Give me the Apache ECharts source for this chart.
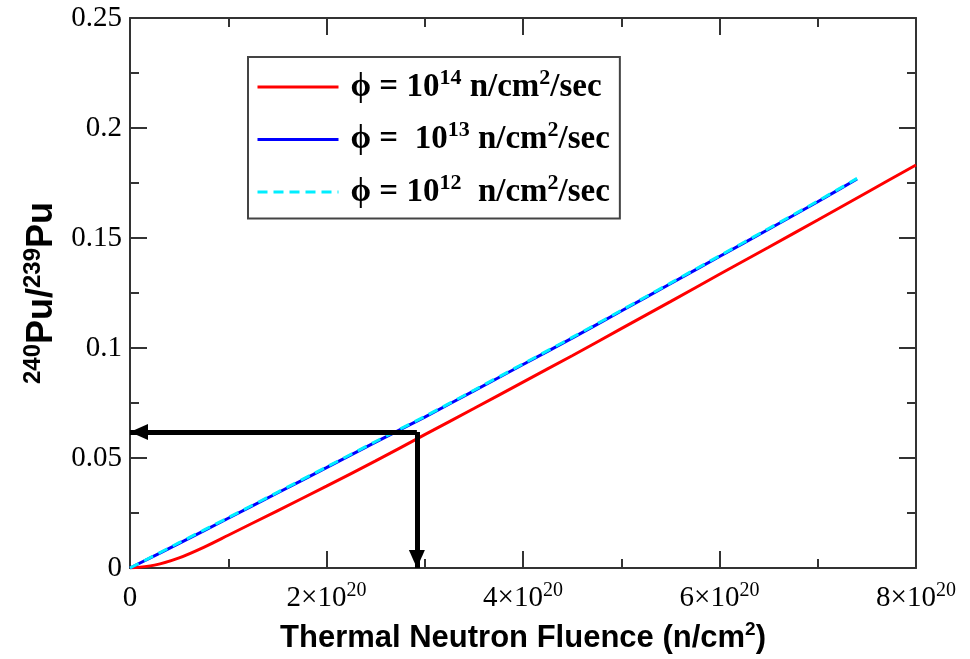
<!DOCTYPE html>
<html>
<head>
<meta charset="utf-8">
<script src="https://cdn.jsdelivr.net/npm/echarts@6/dist/echarts.min.js"></script>
<style>
  html, body { margin: 0; padding: 0; background: #fff; }
  #chart { width: 970px; height: 659px; }
</style>
</head>
<body>
<div id="chart"></div>
<script>
// Fluence in units of 1e20 n/cm^2, ratio 240Pu/239Pu
const fluence14 = [0, 0.25, 0.5, 0.75, 1, 1.5, 2, 2.5, 3, 3.5, 4, 4.5, 5, 5.5, 6, 6.5, 7, 7.5, 8];
const ratio14   = [0, 0.0013, 0.0046, 0.0094, 0.0149, 0.0260, 0.0372, 0.0487, 0.0606, 0.0725, 0.0845, 0.0965, 0.1088, 0.1211, 0.1335, 0.1458, 0.1582, 0.1707, 0.1832];

const fluence13 = [0, 0.5, 1, 1.5, 2, 2.5, 3, 3.5, 4, 4.5, 5, 5.5, 6, 6.5, 7, 7.4];
const ratio13   = [0, 0.0112, 0.0226, 0.0341, 0.0456, 0.0572, 0.0686, 0.0805, 0.0925, 0.1045, 0.1168, 0.1292, 0.1416, 0.1540, 0.1665, 0.1768];

const fluence12 = [0, 0.5, 1, 1.5, 2, 2.5, 3, 3.5, 4, 4.5, 5, 5.5, 6, 6.5, 7, 7.4];
const ratio12   = [0, 0.0115, 0.0229, 0.0344, 0.0459, 0.0575, 0.0689, 0.0808, 0.0928, 0.1048, 0.1171, 0.1295, 0.1419, 0.1543, 0.1668, 0.1771];

const seriesNames = ['phi14', 'phi13', 'phi12'];

// Reading guide: fluence 2.92e20 gives ratio 0.0618
const guideFluence = 2.92;
const guideRatio = 0.0618;

const xTickExp = '20';

function pairs(xs, ys) { return xs.map((x, i) => [x, ys[i]]); }

const serif = 'Liberation Serif';
const sans = 'Liberation Sans';

const chart = echarts.init(document.getElementById('chart'), null, { renderer: 'canvas' });

function frameAxis(extra) {
  return Object.assign({
    axisLine: { show: true, onZero: false, lineStyle: { color: '#333', width: 2 } },
    axisTick: { show: true, inside: true, length: 17, lineStyle: { color: '#333', width: 2 } },
    minorTick: { show: true, splitNumber: 2, length: 9, lineStyle: { color: '#333', width: 2 } },
    splitLine: { show: false }
  }, extra);
}

const legendRich = {
  t: { fontFamily: serif, fontWeight: 'bold', fontSize: 33, color: '#000', lineHeight: 40 },
  s: { fontFamily: serif, fontWeight: 'bold', fontSize: 22, color: '#000', lineHeight: 22, verticalAlign: 'top' }
};

chart.setOption({
  animation: false,
  backgroundColor: '#fff',
  grid: { left: 130, right: 54, top: 18, bottom: 91, containLabel: false, outerBoundsMode: 'none' },
  legend: {
    orient: 'vertical',
    left: 248,
    top: 57,
    padding: [10, 10, 10, 8],
    itemWidth: 81,
    itemHeight: 14,
    itemGap: 16,
    borderColor: '#444',
    borderWidth: 2,
    backgroundColor: '#fff',
    itemStyle: { opacity: 0 },
    lineStyle: { width: 3 },
    data: seriesNames,
    formatter: function (name) {
      if (name === 'phi14') return '{t|ϕ = 10}{s|14}{t| n/cm}{s|2}{t|/sec}';
      if (name === 'phi13') return '{t|ϕ =  10}{s|13}{t| n/cm}{s|2}{t|/sec}';
      return '{t|ϕ = 10}{s|12}{t|  n/cm}{s|2}{t|/sec}';
    },
    textStyle: { rich: legendRich, padding: [0, 0, 0, 7] }
  },
  xAxis: [
    frameAxis({
      type: 'value', min: 0, max: 8, interval: 2, position: 'bottom',
      name: '{t|Thermal Neutron Fluence (n/cm}{s|2}{t|)}',
      nameLocation: 'middle', nameGap: 52,
      nameTextStyle: {
        rich: {
          t: { fontFamily: sans, fontWeight: 'bold', fontSize: 31, color: '#000', lineHeight: 36 },
          s: { fontFamily: sans, fontWeight: 'bold', fontSize: 19, color: '#000', lineHeight: 18, verticalAlign: 'top' }
        }
      },
      axisLabel: {
        margin: 13,
        formatter: function (v) { return v === 0 ? '{m|0}' : '{m|' + v + '×10}{e|' + xTickExp + '}'; },
        rich: {
          m: { fontFamily: serif, fontSize: 29, color: '#000', lineHeight: 34 },
          e: { fontFamily: serif, fontSize: 20, color: '#000', lineHeight: 18, verticalAlign: 'top' }
        }
      }
    }),
    frameAxis({
      type: 'value', min: 0, max: 8, interval: 2, position: 'top',
      axisLabel: { show: false }
    })
  ],
  yAxis: [
    frameAxis({
      type: 'value', min: 0, max: 0.25, interval: 0.05, position: 'left',
      name: '{s|240}{t|Pu/}{s|239}{t|Pu}',
      nameLocation: 'middle', nameRotate: 90, nameGap: 55,
      nameTextStyle: {
        rich: {
          t: { fontFamily: sans, fontWeight: 'bold', fontSize: 36, color: '#000', lineHeight: 42 },
          s: { fontFamily: sans, fontWeight: 'bold', fontSize: 24, color: '#000', lineHeight: 24, verticalAlign: 'top' }
        }
      },
      axisLabel: { margin: 8, fontFamily: serif, fontSize: 29, color: '#000' }
    }),
    frameAxis({
      type: 'value', min: 0, max: 0.25, interval: 0.05, position: 'right',
      axisLabel: { show: false }
    })
  ],
  series: [
    {
      name: 'phi14', type: 'line', symbol: 'none', smooth: 0.3,
      data: pairs(fluence14, ratio14),
      lineStyle: { color: '#ff0000', width: 3 }, itemStyle: { color: '#ff0000' },
      z: 2
    },
    {
      name: 'phi13', type: 'line', symbol: 'none', smooth: 0.3,
      data: pairs(fluence13, ratio13),
      lineStyle: { color: '#0000ff', width: 3 }, itemStyle: { color: '#0000ff' },
      z: 3
    },
    {
      name: 'phi12', type: 'line', symbol: 'none', smooth: 0.3,
      data: pairs(fluence12, ratio12),
      lineStyle: { color: '#00eeff', width: 3, type: [10, 6] }, itemStyle: { color: '#00eeff' },
      z: 4,
      markLine: {
        silent: true,
        symbol: ['none', 'triangle'],
        symbolSize: [16, 18],
        symbolOffset: [[0, 0], [0, 9]],
        label: { show: false },
        lineStyle: { color: '#000', width: 5, type: 'solid' },
        data: [
          [{ coord: [guideFluence, guideRatio] }, { coord: [0, guideRatio] }],
          [{ coord: [guideFluence, guideRatio] }, { coord: [guideFluence, 0] }]
        ]
      }
    }
  ]
});
</script>
</body>
</html>
